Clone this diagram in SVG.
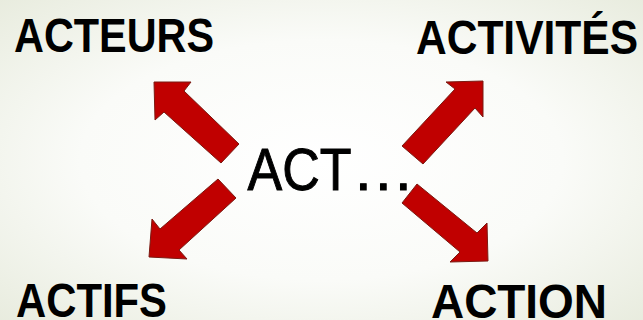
<svg xmlns="http://www.w3.org/2000/svg" width="643" height="320" viewBox="0 0 643 320">
<defs>
<radialGradient id="bg" cx="50%" cy="50%" r="75%">
<stop offset="0" stop-color="#ffffff"/>
<stop offset="0.5" stop-color="#fafbf8"/>
<stop offset="1" stop-color="#e6eadb"/>
</radialGradient>
</defs>
<style>
.lbl{font-family:"Liberation Sans",Arial,sans-serif;font-weight:bold;font-size:48px;fill:#000}
.ctr{font-family:"Liberation Sans",Arial,sans-serif;font-size:60px;fill:#000;stroke:#000;stroke-width:1}
.arr{fill:#c00000;stroke:#7a1a12;stroke-width:1;stroke-linejoin:miter}
</style>
<rect width="643" height="320" fill="url(#bg)"/>
<g id="connectors">
<polygon class="arr" points="239,144 221,163 164,112 155,120 154,82 191,82 184,91"/>
<polygon class="arr" points="402,146 423,164 475,108 483,117 483,81 446,82 455,89"/>
<polygon class="arr" points="218,179 236,198 179,250 187,259 149,257 152,219 160,229"/>
<polygon class="arr" points="417,184 402,203 460,252 450,262 488,261 487,223 477,233"/>
</g>
<g id="center"><text class="ctr" y="190"><tspan x="247.5" textLength="104" lengthAdjust="spacingAndGlyphs">ACT</tspan><tspan x="355 375 395">...</tspan></text></g>
<g id="acteurs"><text class="lbl" x="14" y="52" textLength="200" lengthAdjust="spacingAndGlyphs">ACTEURS</text></g>
<g id="activites"><text class="lbl" x="416" y="54" textLength="222" lengthAdjust="spacingAndGlyphs">ACTIVITÉS</text></g>
<g id="actifs"><text class="lbl" x="16" y="317" textLength="151" lengthAdjust="spacingAndGlyphs">ACTIFS</text></g>
<g id="action"><text class="lbl" x="431" y="318" textLength="176" lengthAdjust="spacingAndGlyphs">ACTION</text></g>
</svg>
